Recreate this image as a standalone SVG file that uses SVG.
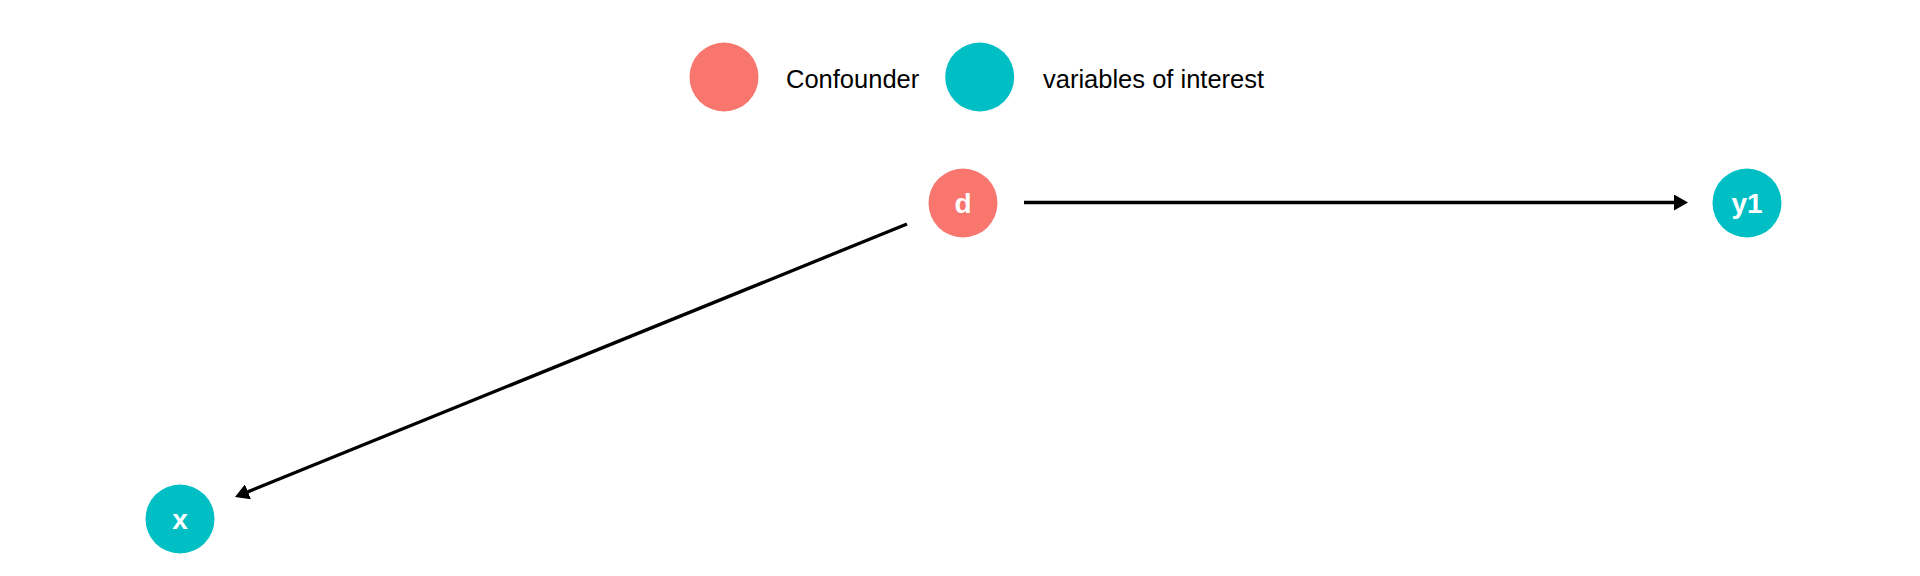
<svg xmlns="http://www.w3.org/2000/svg" width="1920" height="576" viewBox="0 0 1920 576">
<style>
.conf{fill:#F8766D}
.voi{fill:#00BFC4}
.leg{font-family:"Liberation Sans",Arial,sans-serif;font-size:25.5px;fill:#000}
.lbl{font-family:"Liberation Sans",Arial,sans-serif;font-size:28px;font-weight:bold;fill:#fff;text-anchor:middle}
.edge{stroke:#000;stroke-width:3.3;fill:none}
</style>
<defs>
<marker id="arr" markerUnits="userSpaceOnUse" markerWidth="14" markerHeight="16" viewBox="0 0 14 16" refX="3" refY="8" orient="auto">
<path d="M0,0 L14,8 L0,16 Z" fill="#000"/>
</marker>
</defs>
<rect width="1920" height="576" fill="#fff"/>
<g id="legend">
<circle class="conf" cx="724" cy="77" r="34.5"/>
<text class="leg" x="786" y="87.7">Confounder</text>
<circle class="voi" cx="979.7" cy="77" r="34.5"/>
<text class="leg" x="1043" y="87.7">variables of interest</text>
</g>
<g id="connectors">
<line class="edge" x1="1024" y1="202.5" x2="1677" y2="202.5" marker-end="url(#arr)"/>
<line class="edge" x1="907" y1="224" x2="245.2" y2="492.9" marker-end="url(#arr)"/>
</g>
<g id="node-d">
<circle class="conf" cx="963" cy="203" r="34.5"/>
<text class="lbl" x="963" y="213">d</text>
</g>
<g id="node-y1">
<circle class="voi" cx="1747" cy="203" r="34.5"/>
<text class="lbl" x="1747" y="213">y1</text>
</g>
<g id="node-x">
<circle class="voi" cx="180" cy="519" r="34.5"/>
<text class="lbl" x="180" y="529">x</text>
</g>
</svg>
